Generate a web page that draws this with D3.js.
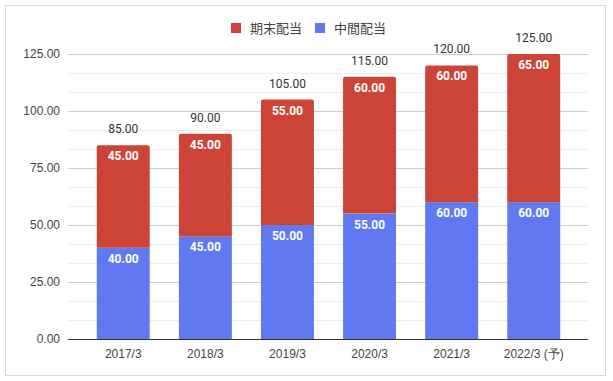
<!DOCTYPE html>
<html>
<head>
<meta charset="utf-8">
<script src="https://cdn.jsdelivr.net/npm/d3@7"></script>
<style>
  body { margin: 0; background: #fff; }
  svg { font-family: Roboto, "Noto Sans CJK JP", sans-serif; }
</style>
</head>
<body>
<div id="chart"></div>
<script>
'use strict';

var years = ['2017/3', '2018/3', '2019/3', '2020/3', '2021/3', '2022/3 (予)'];
var interim = [40, 45, 50, 55, 60, 60];   // 中間配当
var yearEnd = [45, 45, 55, 60, 60, 65];   // 期末配当
var yTicks = [0, 25, 50, 75, 100, 125];
var seriesNames = ['期末配当', '中間配当'];

var width = 613, height = 381;
var red = '#cc4438', blue = '#6079f1';

var svg = d3.select('#chart').append('svg')
    .attr('width', width)
    .attr('height', height);

// outer frame
svg.append('rect')
    .attr('x', 5.5).attr('y', 5.5)
    .attr('width', 600).attr('height', 370)
    .attr('fill', '#fff')
    .attr('stroke', '#dadada');

var x = d3.scaleBand()
    .domain(years)
    .range([82, 575])
    .paddingInner(0.355)
    .paddingOuter(0.18);

var y = d3.scaleLinear()
    .domain([0, 125])
    .range([339, 54]);

// minor grid
var minor = d3.range(0, 125, 25 / 3).filter(function(v) { return Math.abs(v % 25) > 0.01; });
svg.append('g').selectAll('line').data(minor).enter().append('line')
    .attr('x1', 68).attr('x2', 588)
    .attr('y1', function(d) { return Math.round(y(d)) + 0.5; })
    .attr('y2', function(d) { return Math.round(y(d)) + 0.5; })
    .attr('stroke', '#ececec');

// y axis with major grid
var yAxis = svg.append('g')
    .attr('transform', 'translate(68,0)')
    .call(d3.axisLeft(y).tickValues(yTicks).tickSize(-520).tickPadding(8)
        .tickFormat(function(d) { return d.toFixed(2); }));
yAxis.select('.domain').remove();
yAxis.selectAll('line').attr('stroke', '#cccccc');
yAxis.selectAll('text').attr('fill', '#444').style('font-size', '12px');

var data = years.map(function(yr, i) {
    return { year: yr, a: interim[i], b: yearEnd[i], total: interim[i] + yearEnd[i] };
});

// interim (bottom)
svg.append('g').selectAll('rect').data(data).enter().append('rect')
    .attr('x', function(d) { return x(d.year); })
    .attr('width', x.bandwidth())
    .attr('y', function(d) { return y(d.a); })
    .attr('height', function(d) { return y(0) - y(d.a); })
    .attr('fill', blue);

// year-end (top) with slightly rounded top
svg.append('g').selectAll('path').data(data).enter().append('path')
    .attr('fill', red)
    .attr('d', function(d) {
        var x0 = x(d.year), x1 = x0 + x.bandwidth();
        var t = y(d.total), b = y(d.a), r = 2;
        return 'M' + x0 + ',' + b + 'V' + (t + r) + 'Q' + x0 + ',' + t + ' ' + (x0 + r) + ',' + t +
            'H' + (x1 - r) + 'Q' + x1 + ',' + t + ' ' + x1 + ',' + (t + r) + 'V' + b + 'Z';
    });

// inner labels
var fmt = function(v) { return v.toFixed(2); };
svg.append('g').selectAll('text').data(data).enter().append('text')
    .attr('x', function(d) { return x(d.year) + x.bandwidth() / 2; })
    .attr('y', function(d) { return y(d.a) + 15; })
    .attr('text-anchor', 'middle')
    .attr('fill', '#fff').attr('font-weight', 'bold').style('font-size', '12px')
    .text(function(d) { return fmt(d.a); });
svg.append('g').selectAll('text').data(data).enter().append('text')
    .attr('x', function(d) { return x(d.year) + x.bandwidth() / 2; })
    .attr('y', function(d) { return y(d.total) + 15; })
    .attr('text-anchor', 'middle')
    .attr('fill', '#fff').attr('font-weight', 'bold').style('font-size', '12px')
    .text(function(d) { return fmt(d.b); });

// totals
svg.append('g').selectAll('text').data(data).enter().append('text')
    .attr('x', function(d) { return x(d.year) + x.bandwidth() / 2; })
    .attr('y', function(d) { return y(d.total) - 12; })
    .attr('text-anchor', 'middle')
    .attr('fill', '#333').style('font-size', '12px')
    .text(function(d) { return fmt(d.total); });

// baseline
svg.append('line')
    .attr('x1', 68).attr('x2', 588)
    .attr('y1', y(0) + 0.5).attr('y2', y(0) + 0.5)
    .attr('stroke', '#333');

// x axis labels
var xAxis = svg.append('g')
    .attr('transform', 'translate(0,' + y(0) + ')')
    .call(d3.axisBottom(x).tickSize(0).tickPadding(10));
xAxis.select('.domain').remove();
xAxis.selectAll('text').attr('fill', '#444').style('font-size', '12px');

// legend
var legend = svg.append('g').attr('transform', 'translate(231,23)');
var lx = [0, 84];
var lc = [red, blue];
seriesNames.forEach(function(name, i) {
    legend.append('rect').attr('x', lx[i]).attr('y', 0)
        .attr('width', 10).attr('height', 10).attr('fill', lc[i]);
    legend.append('text').attr('x', lx[i] + 19).attr('y', 10)
        .attr('fill', '#444').style('font-size', '13px')
        .text(name);
});
</script>
</body>
</html>
